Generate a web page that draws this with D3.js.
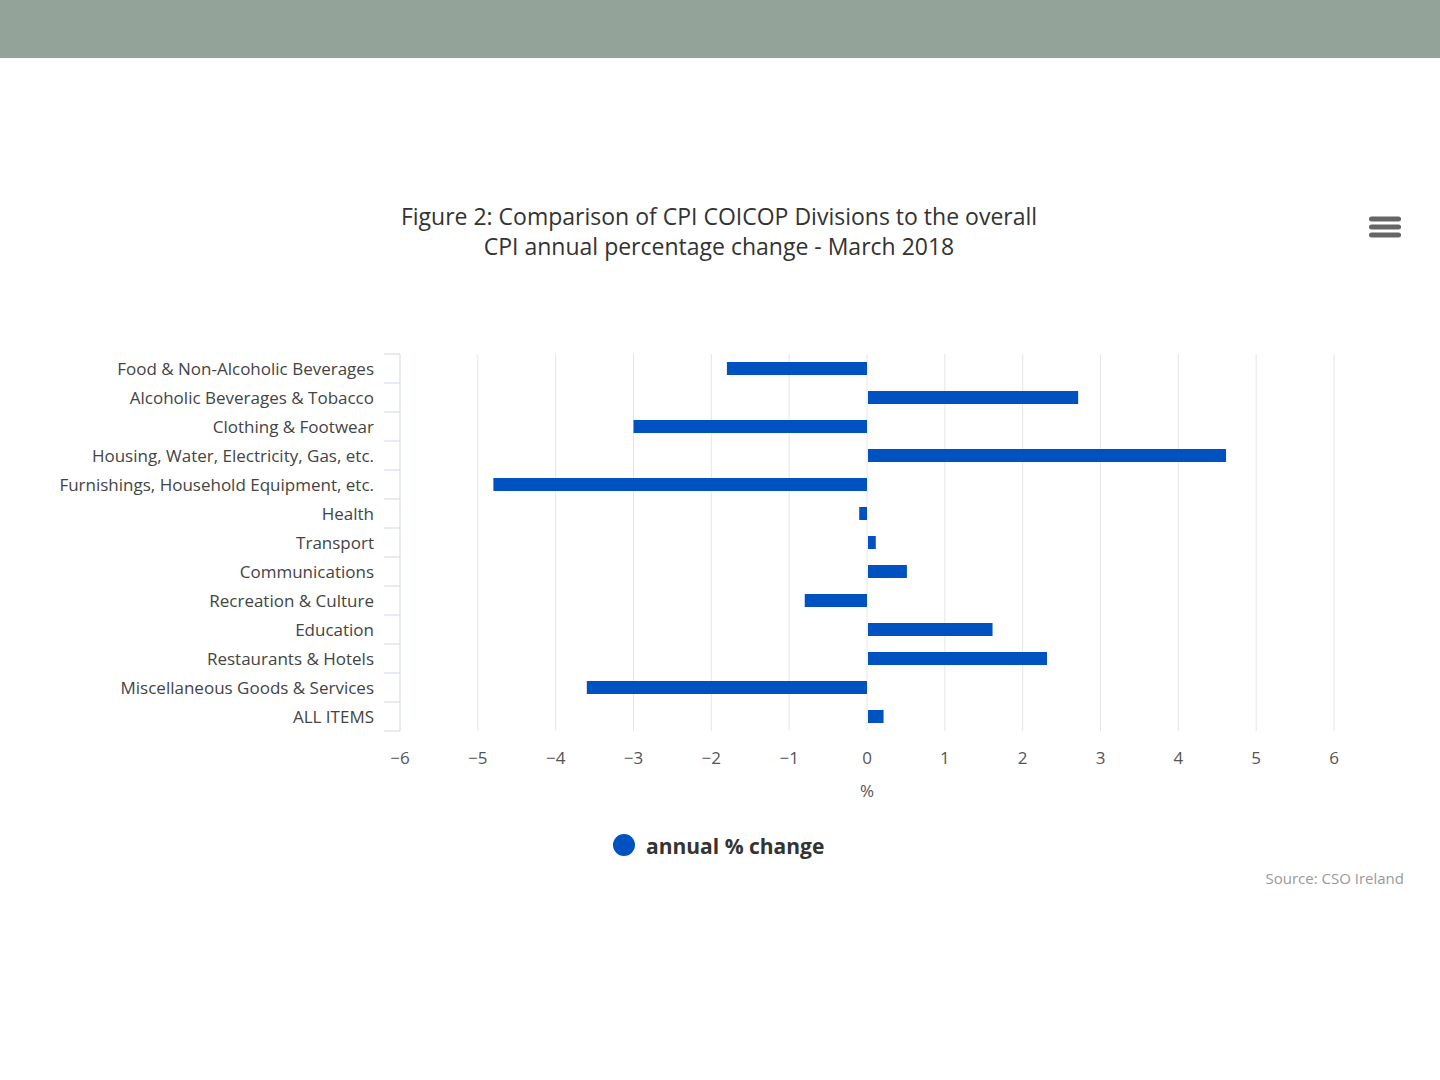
<!DOCTYPE html>
<html><head><meta charset="utf-8">
<script src="https://cdn.jsdelivr.net/npm/d3@7"></script>
<style>body{margin:0;background:#fff;font-family:"Open Sans","DejaVu Sans",sans-serif}</style>
</head><body>
<svg id="chart" width="1440" height="1080"></svg>
<script>
const categories = ["Food & Non-Alcoholic Beverages","Alcoholic Beverages & Tobacco","Clothing & Footwear",
  "Housing, Water, Electricity, Gas, etc.","Furnishings, Household Equipment, etc.","Health","Transport",
  "Communications","Recreation & Culture","Education","Restaurants & Hotels","Miscellaneous Goods & Services","ALL ITEMS"];
const values = [-1.8, 2.7, -3.0, 4.6, -4.8, -0.1, 0.1, 0.5, -0.8, 1.6, 2.3, -3.6, 0.2];
const xTicks = [-6,-5,-4,-3,-2,-1,0,1,2,3,4,5,6];

const svg = d3.select("#chart");
svg.append("rect").attr("width",1440).attr("height",58).attr("fill","#93a399");

const x = d3.scaleLinear().domain([-6,6]).range([400,1334]);
const y = d3.scaleBand().domain(categories).range([354,731]);

svg.append("text").attr("x",719).attr("y",225).attr("text-anchor","middle")
  .attr("font-size",23).attr("fill","#333").text("Figure 2: Comparison of CPI COICOP Divisions to the overall");
svg.append("text").attr("x",719).attr("y",255).attr("text-anchor","middle")
  .attr("font-size",23).attr("fill","#333").text("CPI annual percentage change - March 2018");

// menu icon
[219,227,235].forEach(yy => svg.append("rect").attr("x",1369).attr("y",yy-2.5).attr("width",32).attr("height",5).attr("rx",2.5).attr("fill","#666"));

// grid
svg.append("g").selectAll("line").data(xTicks.filter(d=>d!==-6)).join("line")
  .attr("x1",d=>x(d)).attr("x2",d=>x(d)).attr("y1",354).attr("y2",731)
  .attr("stroke","#e6e6e6");

// bars
svg.append("g").selectAll("rect").data(values).join("rect")
  .attr("x",d=>x(Math.min(0,d))+(d>0?1:0))
  .attr("width",d=>Math.abs(x(d)-x(0)))
  .attr("y",(d,i)=>y(categories[i])+y.bandwidth()/2-6.5)
  .attr("height",13).attr("fill","#0052c1");

// y axis
const ya = svg.append("g");
ya.append("line").attr("x1",400).attr("x2",400).attr("y1",354).attr("y2",731).attr("stroke","#ccd6eb");
ya.selectAll("line.t").data(d3.range(categories.length+1)).join("line").attr("class","t")
  .attr("x1",384).attr("x2",400).attr("y1",i=>354+i*y.step()).attr("y2",i=>354+i*y.step()).attr("stroke","#ccd6eb");
ya.selectAll("text").data(categories).join("text")
  .attr("x",374).attr("y",d=>y(d)+y.bandwidth()/2+6).attr("text-anchor","end")
  .attr("font-size",17).attr("fill","#444").text(d=>d);

// x axis labels
svg.append("g").selectAll("text").data(xTicks).join("text")
  .attr("x",d=>x(d)).attr("y",764).attr("text-anchor","middle")
  .attr("font-size",17).attr("fill","#555").text(d=>d<0?"\u2212"+Math.abs(d):d);
svg.append("text").attr("x",867).attr("y",797).attr("text-anchor","middle")
  .attr("font-size",17).attr("fill","#555").text("%");

// legend
svg.append("circle").attr("cx",624).attr("cy",845).attr("r",11).attr("fill","#0052c1");
svg.append("text").attr("x",646).attr("y",854).attr("font-size",21).attr("font-weight","bold")
  .attr("fill","#333").text("annual % change");

svg.append("text").attr("x",1404).attr("y",884).attr("text-anchor","end")
  .attr("font-size",15).attr("fill","#999").text("Source: CSO Ireland");
</script>
</body></html>
